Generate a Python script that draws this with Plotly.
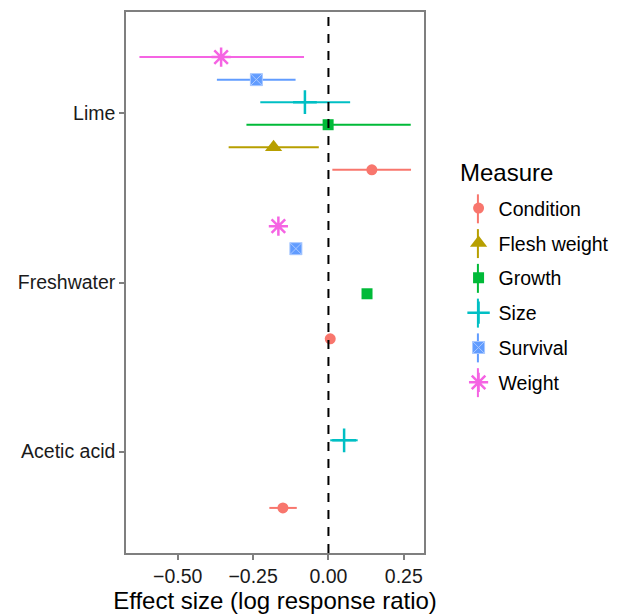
import plotly.graph_objects as go

# ---- data ----
treatments = ["Acetic acid", "Freshwater", "Lime"]          # y-axis categories (bottom to top)
measures = ["Condition", "Flesh weight", "Growth", "Size", "Survival", "Weight"]
colors = ["#F8766D", "#B79F00", "#00BA38", "#00BFC4", "#619CFF", "#F564E3"]

row_treatment = ["Lime", "Lime", "Lime", "Lime", "Lime", "Lime",
                 "Freshwater", "Freshwater", "Freshwater", "Freshwater",
                 "Acetic acid", "Acetic acid"]
row_measure = ["Weight", "Survival", "Size", "Growth", "Flesh weight", "Condition",
               "Weight", "Survival", "Growth", "Condition",
               "Size", "Condition"]
row_estimate = [-0.356, -0.239, -0.078, -0.001, -0.182, 0.144,
                -0.166, -0.108, 0.128, 0.006,
                0.052, -0.151]
row_lower = [-0.627, -0.370, -0.226, -0.272, -0.331, 0.013,
             -0.166, -0.108, 0.128, 0.006,
             0.006, -0.196]
row_upper = [-0.081, -0.109, 0.072, 0.273, -0.032, 0.274,
             -0.166, -0.108, 0.128, 0.006,
             0.097, -0.105]

x_ticks = [-0.50, -0.25, 0.00, 0.25]
x_ticklabels = ["\u22120.50", "\u22120.25", "0.00", "0.25"]

# ---- style ----
symbols = {
    "Condition": dict(symbol="circle", size=11),
    "Flesh weight": dict(symbol="triangle-up", size=15),
    "Growth": dict(symbol="square", size=11),
    "Size": dict(symbol="cross-thin-open", size=17),
    "Survival": dict(symbol="square-x", size=12),
    "Weight": dict(symbol="asterisk-open", size=16),
}

dodge_width = 0.8
n = len(measures)

# geometry of the plot area (figure pixels) used to place legend-key strokes
W, H = 616, 608
M_L, M_R, M_T, M_B = 117.5, 200, 4, 62.5
plot_w = W - M_L - M_R
plot_h = H - M_T - M_B
key_x_px = 470          # legend symbol centre (figure px)
key_y0_px = 201         # first legend item centre (figure px)
key_step_px = 34.8
key_half_px = 14.5

fig = go.Figure()
shapes = []
for i, (m, c) in enumerate(zip(measures, colors)):
    offset = (i - (n - 1) / 2) * dodge_width / n
    xs, ys, ep, em = [], [], [], []
    for t, mm, e, lo, up in zip(row_treatment, row_measure, row_estimate, row_lower, row_upper):
        if mm != m:
            continue
        xs.append(e)
        ys.append(treatments.index(t) + 1 + offset)
        ep.append(up - e)
        em.append(e - lo)
    sym = symbols[m]
    line = dict(width=0)
    if sym["symbol"] in ("cross-thin-open", "asterisk-open"):
        line = dict(width=2.5, color=c)
    elif sym["symbol"] == "square-x":
        line = dict(width=1, color="#A9C8FF")
    fig.add_trace(go.Scatter(
        x=xs, y=ys, mode="markers", name=m, legendgroup=m,
        marker=dict(symbol=sym["symbol"], size=sym["size"], color=c, line=line),
        error_x=dict(type="data", symmetric=False, array=ep, arrayminus=em,
                     width=0, thickness=2, color=c),
    ))
    # vertical stroke behind the legend symbol (pointrange-style key)
    cy = key_y0_px + i * key_step_px
    px = (key_x_px - M_L) / plot_w
    shapes.append(dict(type="line", xref="paper", yref="paper", x0=px, x1=px,
                       y0=(H - M_B - (cy + key_half_px)) / plot_h,
                       y1=(H - M_B - (cy - key_half_px)) / plot_h,
                       line=dict(color=c, width=2), layer="above"))

shapes.append(dict(type="line", xref="x", yref="paper", x0=0, x1=0, y0=0, y1=1,
                   line=dict(color="black", width=2, dash="9px,8px"), layer="above"))

axis_common = dict(showline=True, mirror=True, linecolor="#7F7F7F", linewidth=1.5,
                   showgrid=False, zeroline=False, ticks="outside", ticklen=5,
                   tickwidth=1.5, tickcolor="#7F7F7F", automargin=False,
                   tickfont=dict(family="Liberation Sans, Arial, sans-serif", size=19.5, color="#1a1a1a"))

# The page body adds an 8px offset, so the figure is sized to fill the rest of the window.
fig.update_layout(
    width=W, height=H,
    margin=dict(l=M_L, r=M_R, t=M_T, b=M_B, autoexpand=False),
    paper_bgcolor="white", plot_bgcolor="white",
    font=dict(family="Liberation Sans, Arial, sans-serif", color="black"),
    xaxis=dict(range=[-0.6715, 0.317], tickvals=x_ticks, ticktext=x_ticklabels,
               title=dict(text="Effect size (log response ratio)", font=dict(size=24), standoff=2),
               **axis_common),
    yaxis=dict(range=[0.4, 3.6], tickvals=[1, 2, 3], ticktext=treatments, **axis_common),
    legend=dict(x=1.116, y=0.673, xanchor="left", yanchor="top",
                font=dict(size=19.5), tracegroupgap=6.5, bgcolor="rgba(0,0,0,0)"),
    annotations=[dict(text="Measure", xref="paper", yref="paper", x=1.1156, y=0.7027,
                      xanchor="left", yanchor="middle", showarrow=False,
                      font=dict(size=24, color="black"))],
    shapes=shapes,
    showlegend=True,
)

fig.write_html("out.html")
